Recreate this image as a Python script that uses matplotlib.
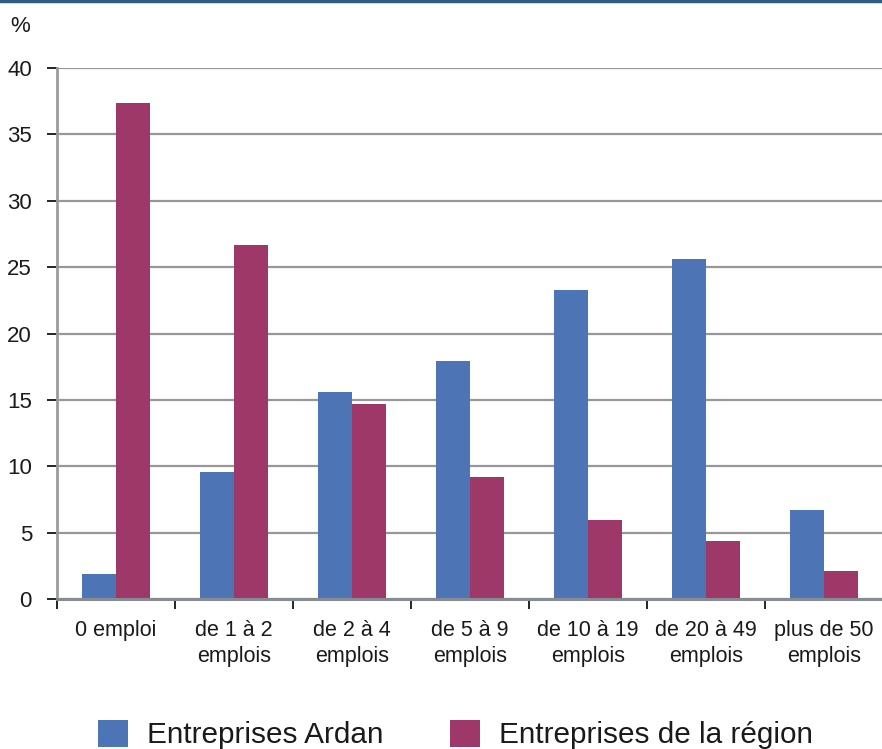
import matplotlib
matplotlib.use("Agg")
import matplotlib.pyplot as plt
import numpy as np

categories = ["0 emploi", "de 1 à 2\nemplois", "de 2 à 4\nemplois", "de 5 à 9\nemplois",
              "de 10 à 19\nemplois", "de 20 à 49\nemplois", "plus de 50\nemplois"]
ardan = [1.9, 9.6, 15.6, 17.9, 23.3, 25.6, 6.7]
region = [37.4, 26.7, 14.7, 9.2, 5.95, 4.4, 2.1]
series_names = ["Entreprises Ardan", "Entreprises de la région"]
yticks = [0, 5, 10, 15, 20, 25, 30, 35, 40]

W, H = 882, 749
plt.rcParams['font.family'] = ['Liberation Sans', 'DejaVu Sans']
fig = plt.figure(figsize=(W / 100, H / 100), dpi=100)

ax_l, ax_r, ax_t, ax_b = 57, 883, 68, 599
ax = fig.add_axes([ax_l / W, 1 - ax_b / H, (ax_r - ax_l) / W, (ax_b - ax_t) / H])

blue = "#4d74b4"
mag = "#9d3868"
x = np.arange(len(categories))
bw = 0.285
b1 = ax.bar(x - bw / 2, ardan, bw, color=blue, zorder=2, label=series_names[0])
b2 = ax.bar(x + bw / 2, region, bw, color=mag, zorder=2, label=series_names[1])

ax.set_xlim(-0.5, len(categories) - 0.5)
ax.set_ylim(0, 40)
ax.set_yticks(yticks)
ax.yaxis.grid(True, color="#979797", linewidth=1.6, zorder=1)
ax.set_axisbelow(True)
for s in ["top", "right"]:
    ax.spines[s].set_visible(False)
ax.spines["left"].set_color("#9a9c9e")
ax.spines["left"].set_linewidth(2)
ax.spines["bottom"].set_color("#878c91")
ax.spines["bottom"].set_linewidth(2.2)
ax.spines["bottom"].set_zorder(3)

ax.tick_params(axis="y", direction="out", length=7, width=1.2, color="black",
               labelsize=16, labelcolor="#1a1a1a", pad=11)
ax.set_xticks(np.arange(len(categories) + 1) - 0.5)
ax.set_xticklabels([])
ax.tick_params(axis="x", which="major", direction="out", length=7, width=1.2, color="black")
ax.set_xticks(x, minor=True)
ax.set_xticklabels(categories, minor=True, linespacing=1.3)
ax.tick_params(axis="x", which="minor", length=0, labelsize=15.5, labelcolor="#1a1a1a", pad=15)

fig.text(20 / W, 1 - 27 / H, "%", fontsize=16, color="#1a1a1a", ha="center", va="center")

fig.add_artist(plt.Line2D([0, 1], [1 - 1 / H, 1 - 1 / H], transform=fig.transFigure,
                          color="#2f5d84", linewidth=2.5))

leg = fig.legend(handles=[b1, b2], labels=series_names, loc="upper left",
                 bbox_to_anchor=(98 / W, 1 - 720 / H), ncol=2, frameon=False,
                 fontsize=21.4, handlelength=1.0, handleheight=1.0,
                 handletextpad=0.64, columnspacing=2.25, borderpad=0, borderaxespad=0)
for t in leg.get_texts():
    t.set_color("#1a1a1a")

fig.savefig("out.png", dpi=100)
